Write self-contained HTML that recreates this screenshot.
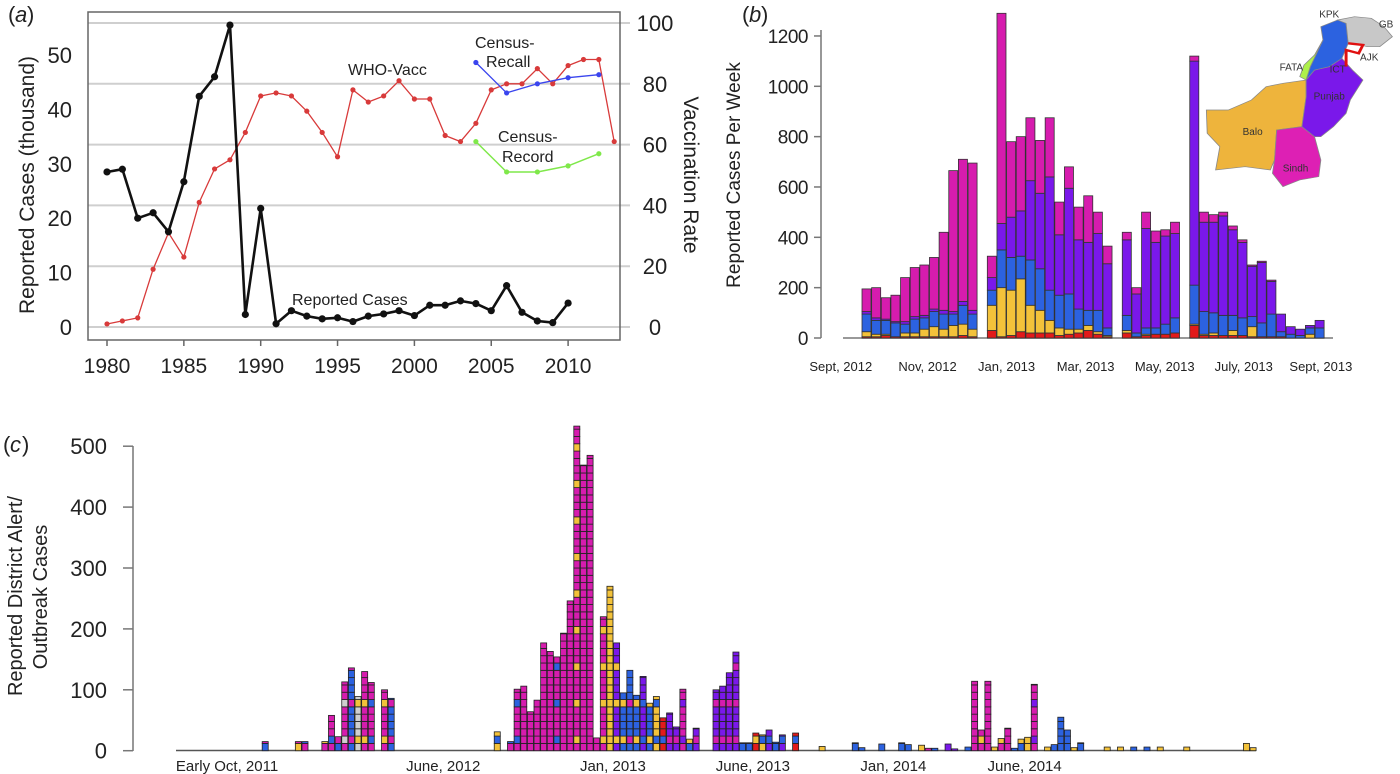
<!DOCTYPE html>
<html><head><meta charset="utf-8"><style>
html,body{margin:0;padding:0;background:#fff;}
svg{display:block;font-family:"Liberation Sans",Arial,sans-serif;}
</style></head><body>
<svg id="fig" width="1400" height="774" viewBox="0 0 1400 774" xmlns="http://www.w3.org/2000/svg">
<g id="pa"></g>
<g id="pb"></g>
<g id="pc"></g>
</svg>
<script>
// ---------- Panel (a) data ----------
const aYears = [1980,1981,1982,1983,1984,1985,1986,1987,1988,1989,1990,1991,1992,1993,1994,1995,1996,1997,1998,1999,2000,2001,2002,2003,2004,2005,2006,2007,2008,2009,2010];
const aCases = [28.5,29,20,21,17.5,26.7,42.4,46,55.5,2.3,21.8,0.6,3,2,1.5,1.7,1,2,2.4,3,2.1,4,4,4.8,4.3,3,7.6,2.7,1.1,0.8,4.4];
const aVaccYears = [1980,1981,1982,1983,1984,1985,1986,1987,1988,1989,1990,1991,1992,1993,1994,1995,1996,1997,1998,1999,2000,2001,2002,2003,2004,2005,2006,2007,2008,2009,2010,2011,2012,2013];
const aVacc = [1,2,3,19,31,23,41,52,55,64,76,77,76,71,64,56,78,74,76,81,75,75,63,61,67,78,80,80,85,80,86,88,88,61];
const aCensusYears = [2004,2006,2008,2010,2012];
const aRecall = [87,77,80,82,83];
const aRecord = [61,51,51,53,57];
const aLeftTicks = [0,10,20,30,40,50];
const aRightTicks = [0,20,40,60,80,100];
const aXTicks = [1980,1985,1990,1995,2000,2005,2010];

// ---------- Panel (b) data ----------
const bSlot = [0,1,2,3,4,5,6,7,8,9,10,11, 13,14,15,16,17,18,19,20,21,22,23,24,25, 27,28,29,30,31,32, 34,35,36,37,38,39,40,41,42,43,44,45,46,47];
const bTotal = [195,200,160,170,240,280,290,320,420,665,710,695, 325,1290,780,800,875,785,875,540,680,520,565,500,365, 420,200,500,425,430,460, 1120,500,490,500,445,390,290,305,230,95,45,35,50,70];
const bRed = [5,5,10,5,5,5,5,5,5,5,10,5, 30,5,10,25,20,20,20,10,15,20,30,15,5, 20,5,10,15,15,20, 50,10,10,10,10,10,5,5,5,5,0,0,0,0];
const bYellow = [20,10,5,0,15,15,30,40,30,45,45,30, 100,195,180,210,110,90,50,30,20,15,20,10,5, 10,0,5,0,0,0, 5,5,10,0,20,0,40,0,0,0,0,0,15,0];
const bBlue = [70,55,55,55,35,55,45,60,60,45,75,60, 60,150,130,90,180,165,120,130,140,80,60,85,30, 60,15,25,25,40,60, 155,90,80,80,60,70,40,55,90,20,15,10,25,40];
const bPurple = [10,10,5,5,10,10,10,10,15,10,15,15, 50,105,160,180,315,300,450,240,420,275,270,305,255, 300,155,395,340,350,335, 890,355,360,395,340,300,200,240,130,70,30,25,10,30];
const bTicks = [0,200,400,600,800,1000,1200];
const bXLabels = ["Sept, 2012","Nov, 2012","Jan, 2013","Mar, 2013","May, 2013","July, 2013","Sept, 2013"];
const bXLabelSlots = [-2.2,6.8,15,23.2,31.4,39.6,47.6];

// ---------- Panel (c) data ----------
const cWeek = [13,18,19,22,23,24,25,26,27,28,29,31,32, 48,50,51,52,53,54,55,56,57,58,59,60,61,62,63,64,65,66,67,68,69,70,71,72,73,74,75,76,77,78, 81,82,83,84,85,86,87,88,89,90,91,93,97, 102,103,106,109,110,112,113,114,116,117, 119,120,121,122,123,124,125,126,127,128,129, 131,132,133,134,135,136, 140,142,144,146,148,152,161,162];
const cTotal = [15,15,15,15,58,23,113,136,89,130,112,100,86, 31,15,101,106,64,83,177,163,154,193,246,533,469,485,21,220,270,177,95,132,91,122,78,89,54,62,39,101,19,37, 100,106,128,162,13,13,29,26,34,14,26,29,7, 13,5,11,13,10,9,4,4,11,3, 6,114,34,114,6,20,37,4,19,22,109, 6,10,55,34,5,13, 6,6,6,6,6,6,12,5];
const cMain = "BYMMMBMBGMMMB"+"YMMMMMMMMMMMMMMMYPBBBPBYRPPMBP"+"PPPPBBRYPBPRY"+"BBBBBYMBPP"+"BMMMYMMBBYM"+"YBBBYB"+"YYBBYYYY";
const cAlt  = "MMBYBMGMYYBYM"+"BBBMMMMMBMMYMMMYYYYMYBYBBMMPYM"+"MMMMBMYBBBBBY"+"BBBGBYMBPP"+"BMYMYYMBYYP"+"YBBBYB"+"YYBBYYYY";
const cTicks = [0,100,200,300,400,500];
const cXLabels = ["Early Oct, 2011","June, 2012","Jan, 2013","June, 2013","Jan, 2014","June, 2014"];
const cXLabelWeeks = [7.7,40.3,65.9,87,108.2,128];

const NS = "http://www.w3.org/2000/svg";
function mk(parent, tag, attrs, text){
  const e = document.createElementNS(NS, tag);
  for (const k in attrs) e.setAttribute(k, attrs[k]);
  if (text !== undefined) e.textContent = text;
  parent.appendChild(e);
  return e;
}
const COL = {M:"#d61cae",P:"#7a18ea",B:"#2c62e0",Y:"#f3c23a",R:"#e21a1a",G:"#cfcfcf"};

// ================= PANEL A =================
(function(){
  const g = document.getElementById('pa');
  const xA = y => 107 + (y-1980)*15.37;
  const yL = v => 327 - v*5.44;
  const yR = v => 327 - v*3.04;
  let e;
  e = mk(g,'text',{x:8,y:22,'font-size':22,fill:'#222'},'(');
  
  
  mk(g,'text',{x:15,y:22,'font-size':22,'font-style':'italic',fill:'#222'},'a');
  mk(g,'text',{x:27,y:22,'font-size':22,fill:'#222'},')');
  aRightTicks.forEach(t=>{
    e = mk(g,'line',{x1:88,x2:630,y1:yR(t),y2:yR(t),stroke:'#cfcfcf','stroke-width':2});
    
    
    e = mk(g,'text',{x:655,y:yR(t)+8,'font-size':22,'text-anchor':'middle',fill:'#222'},String(t));
    
    
  });
  e = mk(g,'rect',{x:88,y:12,width:532,height:328,fill:'none',stroke:'#666','stroke-width':1.5});
  
  
  aLeftTicks.forEach(t=>{
    e = mk(g,'text',{x:72,y:yL(t)+8,'font-size':22,'text-anchor':'end',fill:'#222'},String(t));
    
    
  });
  aXTicks.forEach(t=>{
    mk(g,'line',{x1:xA(t),x2:xA(t),y1:340,y2:346,stroke:'#666','stroke-width':1.5});
    e = mk(g,'text',{x:xA(t),y:373,'font-size':21,'text-anchor':'middle',fill:'#222'},String(t));
    
    
  });
  e = mk(g,'text',{x:0,y:0,'font-size':21,'text-anchor':'middle',fill:'#222',transform:'translate(34,185) rotate(-90)'},'Reported Cases (thousand)');
  
  
  e = mk(g,'text',{x:0,y:0,'font-size':21,'text-anchor':'middle',fill:'#222',transform:'translate(684,175) rotate(90)'},'Vaccination Rate');
  
  

  function series(xs, ys, yf, color, w, r, name){
    const pts = xs.map((x,i)=>xA(x).toFixed(1)+','+yf(ys[i]).toFixed(1)).join(' ');
    const pl = mk(g,'polyline',{points:pts,fill:'none',stroke:color,'stroke-width':w,'stroke-linejoin':'round'});
    
    
    xs.forEach((x,i)=>{
      const c = mk(g,'circle',{cx:xA(x),cy:yf(ys[i]),r:r,fill:color});
      
      
    });
  }
  series(aVaccYears,aVacc,yR,'#d83a3a',1.3,2.6,'who-vacc');
  series(aCensusYears,aRecall,yR,'#3a45ee',1.3,2.6,'census-recall');
  series(aCensusYears,aRecord,yR,'#7fe84a',1.5,2.6,'census-record');
  series(aYears,aCases,yL,'#111',2.6,3.6,'reported-cases');
  const lab = (x,y,t,n)=>{ const e=mk(g,'text',{x:x,y:y,'font-size':16,fill:'#222'},t);   };
  lab(348,75,'WHO-Vacc','who-vacc-label');
  lab(475,48,'Census-','census-recall-label');
  lab(486,67,'Recall','census-recall-label-2');
  lab(498,142,'Census-','census-record-label');
  lab(502,162,'Record','census-record-label-2');
  lab(292,305,'Reported Cases','reported-cases-label');
})();

// ================= PANEL B =================
(function(){
  const g = document.getElementById('pb');
  const sw = 9.64, x0 = 862;
  const xB = s => x0 + s*sw;
  const yB = v => 338 - v*0.2517;
  let e;
  mk(g,'text',{x:742,y:22,'font-size':22,fill:'#222'},'(');
  e = mk(g,'text',{x:749,y:22,'font-size':22,'font-style':'italic',fill:'#222'},'b');
  
  
  mk(g,'text',{x:761,y:22,'font-size':22,fill:'#222'},')');
  e = mk(g,'line',{x1:821,x2:821,y1:30,y2:338,stroke:'#777','stroke-width':1.5});
  
  
  bTicks.forEach(t=>{
    mk(g,'line',{x1:814,x2:821,y1:yB(t),y2:yB(t),stroke:'#777','stroke-width':1.5});
    e = mk(g,'text',{x:808,y:yB(t)+7,'font-size':19,'text-anchor':'end',fill:'#222','letter-spacing':'-0.5'},String(t));
    
    
  });
  e = mk(g,'line',{x1:843,x2:1333,y1:338,y2:338,stroke:'#999','stroke-width':2});
  
  
  e = mk(g,'text',{x:0,y:0,'font-size':19,'text-anchor':'middle',fill:'#222',transform:'translate(740,175) rotate(-90)'},'Reported Cases Per Week');
  
  
  bSlot.forEach((s,i)=>{
    const mag = Math.max(0, bTotal[i]-bRed[i]-bYellow[i]-bBlue[i]-bPurple[i]);
    const segs = [[bRed[i],COL.R],[bYellow[i],COL.Y],[bBlue[i],COL.B],[bPurple[i],COL.P],[mag,COL.M]];
    let acc = 0;
    const bg = mk(g,'g',{});
    
    
    segs.forEach(([v,c])=>{
      if (v<=0) return;
      const r = mk(bg,'rect',{x:xB(s),y:yB(acc+v),width:sw-0.6,height:yB(acc)-yB(acc+v),fill:c,stroke:'#333','stroke-width':0.8});
      
      
      acc += v;
    });
  });
  bXLabels.forEach((t,i)=>{
    e = mk(g,'text',{x:xB(bXLabelSlots[i]),y:371,'font-size':13,'text-anchor':'middle',fill:'#222'},t);
    
    
  });
  const m = mk(g,'g',{transform:'translate(740,0) scale(0.4209,0.3333)'});
  
  
  const poly = (pts,c,n)=>{ const p=mk(m,'polygon',{points:pts,fill:c,stroke:'#888','stroke-width':2});   };
  poly('1108,330 1160,330 1215,300 1250,260 1290,250 1345,240 1345,290 1335,380 1275,390 1270,480 1260,510 1200,500 1130,510 1140,440 1110,400','#eeb43c','map-balochistan');
  poly('1275,390 1335,380 1365,410 1380,480 1375,530 1330,540 1300,555 1290,560 1265,520 1270,480','#dd20b4','map-sindh');
  poly('1345,240 1365,210 1400,200 1430,175 1455,210 1480,240 1465,270 1450,300 1440,340 1410,380 1380,410 1365,410 1335,380 1345,290','#7a18ea','map-punjab');
  poly('1380,80 1420,60 1440,70 1445,130 1430,175 1400,200 1365,210 1345,240 1355,200 1370,160 1385,120','#2c62e0','map-kpk');
  poly('1345,240 1330,230 1340,195 1365,165 1385,120 1370,160 1355,200','#aef04a','map-fata');
  poly('1420,60 1460,50 1500,55 1530,80 1550,110 1520,140 1490,140 1460,130 1445,130 1440,70','#c8c8c8','map-gb');
  e = mk(m,'polyline',{points:'1445,130 1480,135 1470,160 1440,150 1440,200',fill:'none',stroke:'#e01010','stroke-width':7});
  
  
  const ml = (x,y,t)=>{ const e=mk(g,'text',{x:740+x/2.376,y:y/3,'font-size':10,fill:'#333','text-anchor':'middle'},t);   };
  ml(1400,52,'KPK'); ml(1535,82,'GB'); ml(1495,182,'AJK'); ml(1310,212,'FATA'); ml(1420,218,'ICT'); ml(1400,298,'Punjab'); ml(1218,405,'Balo'); ml(1320,515,'Sindh');
})();

// ================= PANEL C =================
(function(){
  const g = document.getElementById('pc');
  const wk = 6.63, x0 = 176;
  const xC = w => x0 + w*wk;
  const yC = v => 750.7 - v*0.609;
  let e;
  mk(g,'text',{x:3,y:452,'font-size':22,fill:'#222'},'(');
  e = mk(g,'text',{x:10,y:452,'font-size':22,'font-style':'italic',fill:'#222'},'c');
  
  
  mk(g,'text',{x:22,y:452,'font-size':22,fill:'#222'},')');
  e = mk(g,'line',{x1:133,x2:133,y1:446,y2:751,stroke:'#777','stroke-width':1.5});
  
  
  cTicks.forEach(t=>{
    mk(g,'line',{x1:123,x2:133,y1:yC(t),y2:yC(t),stroke:'#777','stroke-width':1.5});
    e = mk(g,'text',{x:107,y:yC(t)+8,'font-size':22,'text-anchor':'end',fill:'#222'},String(t));
    
    
  });
  e = mk(g,'text',{x:0,y:0,'font-size':20,'text-anchor':'middle',fill:'#222',transform:'translate(22,596) rotate(-90)'},'Reported District Alert/');
  
  
  e = mk(g,'text',{x:0,y:0,'font-size':20,'text-anchor':'middle',fill:'#222',transform:'translate(47,597) rotate(-90)'},'Outbreak Cases');
  
  
  e = mk(g,'line',{x1:176,x2:1256,y1:750.5,y2:750.5,stroke:'#555','stroke-width':1.6});
  
  
  const CELL = 12;
  cWeek.forEach((w,i)=>{
    const bg = mk(g,'g',{});
    
    
    const main = COL[cMain[i]], alt = COL[cAlt[i]];
    let acc = 0, k = 0;
    while (acc < cTotal[i]) {
      const v = Math.min(CELL, cTotal[i]-acc);
      const r = mk(bg,'rect',{x:xC(w),y:yC(acc+v),width:wk-0.6,height:yC(acc)-yC(acc+v),fill:(k%5===1?alt:main),stroke:'#222','stroke-width':0.8});
      
      
      acc += v; k++;
    }
  });
  cXLabels.forEach((t,i)=>{
    e = mk(g,'text',{x:xC(cXLabelWeeks[i]),y:771,'font-size':15,'text-anchor':'middle',fill:'#222'},t);
    
    
  });
})();
</script>
</body></html>
